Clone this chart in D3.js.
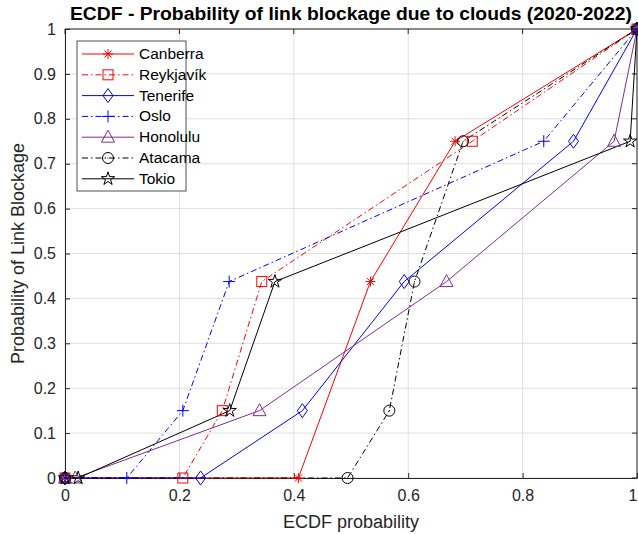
<!DOCTYPE html>
<html>
<head>
<meta charset="utf-8">
<script src="https://cdn.jsdelivr.net/npm/d3@7"></script>
<style>
  html, body { margin: 0; padding: 0; background: #fff; }
  svg { display: block; font-family: "Liberation Sans", Arial, Helvetica, sans-serif; }
</style>
</head>
<body>
<svg id="chart" width="638" height="534"></svg>
<script>
// ECDF of link blockage probability per site (x = ECDF probability, y = blockage probability)
const cities = ["Canberra", "Reykjavík", "Tenerife", "Oslo", "Honolulu", "Atacama", "Tokio"];

const canberraX  = [0, 0.408, 0.534, 0.682, 1];
const canberraY  = [0, 0, 0.4375, 0.75, 1];
const reykjavikX = [0, 0.206, 0.275, 0.344, 0.712, 1];
const reykjavikY = [0, 0, 0.15, 0.4375, 0.75, 1];
const tenerifeX  = [0, 0.237, 0.415, 0.593, 0.889, 1];
const tenerifeY  = [0, 0, 0.15, 0.4375, 0.75, 1];
const osloX      = [0, 0.108, 0.206, 0.287, 0.837, 1];
const osloY      = [0, 0, 0.15, 0.4375, 0.75, 1];
const honoluluX  = [0, 0.018, 0.34, 0.667, 0.96, 1];
const honoluluY  = [0, 0, 0.15, 0.4375, 0.75, 1];
const atacamaX   = [0, 0.494, 0.567, 0.611, 0.696, 1];
const atacamaY   = [0, 0, 0.15, 0.4375, 0.75, 1];
const tokioX     = [0, 0.023, 0.288, 0.367, 0.988, 1];
const tokioY     = [0, 0, 0.15, 0.4375, 0.75, 1];

const xTicks = [0, 0.2, 0.4, 0.6, 0.8, 1];
const yTicks = [0, 0.1, 0.2, 0.3, 0.4, 0.5, 0.6, 0.7, 0.8, 0.9, 1];

const seriesX = [canberraX, reykjavikX, tenerifeX, osloX, honoluluX, atacamaX, tokioX];
const seriesY = [canberraY, reykjavikY, tenerifeY, osloY, honoluluY, atacamaY, tokioY];

// Line styles and markers (MATLAB-like)
const styles = [
  { color: "#ff0000", dash: null,            marker: "asterisk" },
  { color: "#ff0000", dash: "6,3,1.5,3",     marker: "square" },
  { color: "#0000ff", dash: null,            marker: "diamond" },
  { color: "#0000ff", dash: "6,3,1.5,3",     marker: "plus" },
  { color: "#7E2F8E", dash: null,            marker: "triangle" },
  { color: "#000000", dash: "6,3,1.5,3",     marker: "circle" },
  { color: "#000000", dash: null,            marker: "star" }
];

const series = cities.map((name, i) => ({
  name,
  style: styles[i],
  points: seriesX[i].map((x, j) => ({ x, y: seriesY[i][j] }))
}));

const svg = d3.select("#chart");
const margin = { left: 65, right: 1, top: 29, bottom: 56 };
const W = 638, H = 534;
const x = d3.scaleLinear().domain([0, 1]).range([margin.left, W - margin.right]);
const y = d3.scaleLinear().domain([0, 1]).range([H - margin.bottom, margin.top]);

const axisColor = "#262626";

// Grid
const grid = svg.append("g");
grid.selectAll("line.gx").data(xTicks).join("line")
  .attr("x1", d => x(d)).attr("x2", d => x(d))
  .attr("y1", y(0)).attr("y2", y(1))
  .attr("stroke", "#dfdfdf").attr("stroke-width", 1);
grid.selectAll("line.gy").data(yTicks).join("line")
  .attr("y1", d => y(d)).attr("y2", d => y(d))
  .attr("x1", x(0)).attr("x2", x(1))
  .attr("stroke", "#dfdfdf").attr("stroke-width", 1);

// Axes with inward ticks
const xAxis = d3.axisBottom(x).tickValues(xTicks).tickFormat(d3.format("~g")).tickSizeInner(-5).tickSizeOuter(0).tickPadding(12);
const yAxis = d3.axisLeft(y).tickValues(yTicks).tickFormat(d3.format("~g")).tickSizeInner(-5).tickSizeOuter(0).tickPadding(9);

const gx = svg.append("g").attr("transform", `translate(0,${y(0)})`).call(xAxis);
const gy = svg.append("g").attr("transform", `translate(${x(0)},0)`).call(yAxis);
[gx, gy].forEach(g => {
  g.select(".domain").attr("stroke", axisColor);
  g.selectAll(".tick line").attr("stroke", axisColor);
  g.selectAll(".tick text").attr("fill", axisColor).attr("font-size", 16)
    .attr("font-family", "'Liberation Sans', Arial, sans-serif");
});
// keep the last x label inside the canvas
gx.selectAll(".tick text").filter(d => d === 1).attr("text-anchor", "end").attr("dx", 0);

// Box (top and right edges) with inward ticks
const box = svg.append("g");
box.append("line").attr("x1", x(0)).attr("x2", x(1)).attr("y1", y(1)).attr("y2", y(1)).attr("stroke", axisColor);
box.append("line").attr("x1", x(1)).attr("x2", x(1)).attr("y1", y(0)).attr("y2", y(1)).attr("stroke", axisColor);
box.selectAll("line.tt").data(xTicks).join("line")
  .attr("x1", d => x(d)).attr("x2", d => x(d)).attr("y1", y(1)).attr("y2", y(1) + 5).attr("stroke", axisColor);
box.selectAll("line.tr").data(yTicks).join("line")
  .attr("y1", d => y(d)).attr("y2", d => y(d)).attr("x1", x(1)).attr("x2", x(1) - 5).attr("stroke", axisColor);

// Marker drawing
function drawMarker(g, type, color, cx, cy) {
  const s = g.append("g").attr("transform", `translate(${cx},${cy})`)
    .attr("fill", "none").attr("stroke", color).attr("stroke-width", 1);
  switch (type) {
    case "asterisk": {
      const r = 5;
      s.append("line").attr("x1", -r).attr("x2", r).attr("y1", 0).attr("y2", 0);
      s.append("line").attr("x1", 0).attr("x2", 0).attr("y1", -r).attr("y2", r);
      s.append("line").attr("x1", -r * 0.7).attr("x2", r * 0.7).attr("y1", -r * 0.7).attr("y2", r * 0.7);
      s.append("line").attr("x1", -r * 0.7).attr("x2", r * 0.7).attr("y1", r * 0.7).attr("y2", -r * 0.7);
      break;
    }
    case "square":
      s.append("rect").attr("x", -5).attr("y", -5).attr("width", 10).attr("height", 10);
      break;
    case "diamond":
      s.append("path").attr("d", "M0,-7L5,0L0,7L-5,0Z");
      break;
    case "plus":
      s.append("line").attr("x1", -6).attr("x2", 6);
      s.append("line").attr("y1", -6).attr("y2", 6);
      break;
    case "triangle":
      s.append("path").attr("d", "M0,-7L6.5,5L-6.5,5Z");
      break;
    case "circle":
      s.append("circle").attr("r", 5.5);
      s.append("circle").attr("r", 0.6).attr("fill", color).attr("stroke", "none");
      break;
    case "star":
      s.append("path").attr("d", d3.symbol(d3.symbolStar, 55)());
      break;
  }
}

// Series lines and markers
const plot = svg.append("g");
const line = d3.line().x(d => x(d.x)).y(d => y(d.y));
series.forEach(sr => {
  plot.append("path").datum(sr.points)
    .attr("d", line)
    .attr("fill", "none")
    .attr("stroke", sr.style.color)
    .attr("stroke-width", 1)
    .attr("stroke-dasharray", sr.style.dash);
});
series.forEach(sr => {
  const mg = plot.append("g");
  sr.points.forEach(p => drawMarker(mg, sr.style.marker, sr.style.color, x(p.x), y(p.y)));
});

// Title and axis labels
svg.append("text").attr("x", 351).attr("y", 20)
  .attr("text-anchor", "middle").attr("font-weight", "bold").attr("font-size", 18)
  .attr("textLength", 562).attr("lengthAdjust", "spacingAndGlyphs")
  .attr("fill", "#000").text("ECDF - Probability of link blockage due to clouds (2020-2022)");
svg.append("text").attr("x", (x(0) + x(1)) / 2).attr("y", 528)
  .attr("text-anchor", "middle").attr("font-size", 18).attr("fill", axisColor)
  .text("ECDF probability");
svg.append("text").attr("transform", `translate(24,${(y(0) + y(1)) / 2}) rotate(-90)`)
  .attr("text-anchor", "middle").attr("font-size", 18).attr("fill", axisColor)
  .text("Probability of Link Blockage");

// Legend
const lg = svg.append("g");
const lgX = 77, lgY = 41, lgW = 109, lgH = 150, rowH = 20.8, firstRow = 54;
lg.append("rect").attr("x", lgX).attr("y", lgY).attr("width", lgW).attr("height", lgH)
  .attr("fill", "#fff").attr("stroke", axisColor).attr("stroke-width", 0.8);
series.forEach((sr, i) => {
  const cy = firstRow + i * rowH;
  lg.append("line").attr("x1", 82).attr("x2", 134).attr("y1", cy).attr("y2", cy)
    .attr("stroke", sr.style.color).attr("stroke-width", 1).attr("stroke-dasharray", sr.style.dash);
  drawMarker(lg, sr.style.marker, sr.style.color, 108, cy);
  lg.append("text").attr("x", 139).attr("y", cy + 5).attr("font-size", 15.5)
    .attr("fill", "#000").text(sr.name);
});
</script>
</body>
</html>
